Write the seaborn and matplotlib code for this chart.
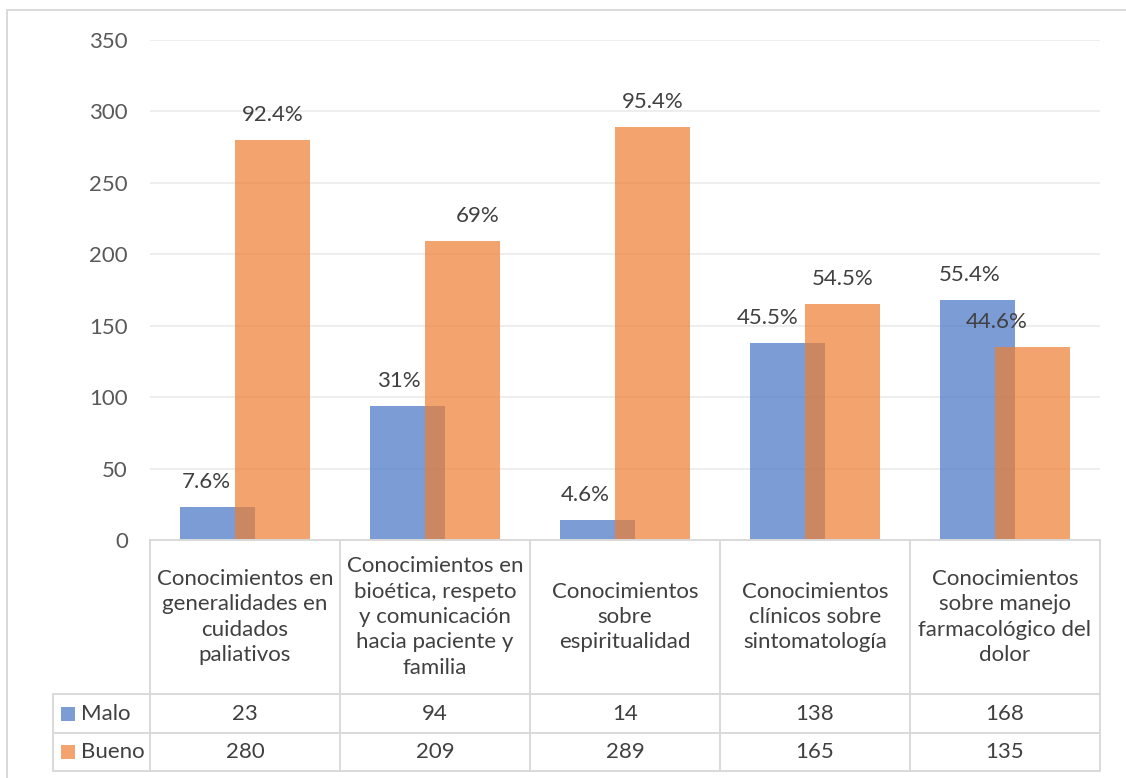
import numpy as np
import pandas as pd
import matplotlib
matplotlib.use("Agg")
import matplotlib.pyplot as plt
from matplotlib.lines import Line2D
from matplotlib.patches import Rectangle
import seaborn as sns

# ---- data ----
categorias = [
    "Conocimientos en\ngeneralidades en\ncuidados\npaliativos",
    "Conocimientos en\nbioética, respeto\ny comunicación\nhacia paciente y\nfamilia",
    "Conocimientos\nsobre\nespiritualidad",
    "Conocimientos\nclínicos sobre\nsintomatología",
    "Conocimientos\nsobre manejo\nfarmacológico del\ndolor",
]
series = ["Malo", "Bueno"]
malo = [23, 94, 14, 138, 168]
bueno = [280, 209, 289, 165, 135]
pct_malo = ["7.6%", "31%", "4.6%", "45.5%", "55.4%"]
pct_bueno = ["92.4%", "69%", "95.4%", "54.5%", "44.6%"]
y_ticks = [0, 50, 100, 150, 200, 250, 300, 350]

# ---- style ----
colores = {"Malo": "#4472C4", "Bueno": "#ED7D31"}
txt_dark = "#404040"
txt_axis = "#595959"
line_col = "#D9D9D9"
grid_col = "#EBEBEB"
fs = 16
# horizontal nudges (px) for the percentage labels
dx_malo = [-11, -8, -12, -19, -7]
dx_bueno = [0, 15, 0, 0, -36]

sns.set_theme(style="white")
plt.rcParams["font.family"] = ["Lato", "DejaVu Sans"]

W, H = 1126, 778
fig = plt.figure(figsize=(W / 100, H / 100), dpi=100)
fig.patch.set_facecolor("white")

PL, PR, PT, PB = 150, 1100, 40, 540
ax = fig.add_axes([PL / W, 1 - PB / H, (PR - PL) / W, (PB - PT) / H])

n = len(categorias)
idx = np.arange(n)
shift = 0.147
bar_w = 0.395
df = pd.DataFrame({
    "pos": np.concatenate([idx - shift, idx + shift]),
    "valor": malo + bueno,
    "serie": ["Malo"] * n + ["Bueno"] * n,
})
for s in series:
    sub = df[df["serie"] == s]
    sns.barplot(data=sub, x="pos", y="valor", native_scale=True, width=bar_w,
                color=colores[s], alpha=0.7, saturation=1, errorbar=None,
                linewidth=0, edgecolor="none", ax=ax, zorder=3)

ax.set_xlim(-0.5, n - 0.5)
ax.set_ylim(0, 350)
ax.set_yticks(y_ticks)
ax.set_xticks([])
ax.set_xlabel("")
ax.set_ylabel("")
ax.grid(False)
for yv in y_ticks[1:]:
    ax.axhline(yv, color=grid_col, lw=1.2, zorder=1)
for sp in ax.spines.values():
    sp.set_visible(False)
ax.tick_params(axis="y", length=0, pad=16, labelsize=fs, labelcolor=txt_axis)

for i in range(n):
    ax.annotate(pct_malo[i], (i - shift, malo[i]), xytext=(dx_malo[i] * 0.72, 18),
                textcoords="offset points", ha="center", va="center",
                fontsize=fs, color=txt_dark, zorder=5)
    ax.annotate(pct_bueno[i], (i + shift, bueno[i]), xytext=(dx_bueno[i] * 0.72, 18),
                textcoords="offset points", ha="center", va="center",
                fontsize=fs, color=txt_dark, zorder=5)

# ---- data table below the plot (x in category units, y in pixels) ----
ppu = (PR - PL) / n
tab = fig.add_axes([0, 0, 1, 1])
tab.patch.set_visible(False)
tab.set_xlim(-0.5 - PL / ppu, -0.5 + (W - PL) / ppu)
tab.set_ylim(H, 0)
tab.axis("off")

leg_left = -0.5 - 97 / ppu
r_top, r1, r2, r_bot = 540, 694, 733, 771
lw = 1.4
tab.plot([-0.5, n - 0.5], [r_top, r_top], color=line_col, lw=lw)
for yy in (r1, r2, r_bot):
    tab.plot([leg_left, n - 0.5], [yy, yy], color=line_col, lw=lw)
for k in range(n + 1):
    tab.plot([k - 0.5, k - 0.5], [r_top, r_bot], color=line_col, lw=lw)
tab.plot([leg_left, leg_left], [r1, r_bot], color=line_col, lw=lw)

for i in range(n):
    tab.text(i, (r_top + r1) / 2, categorias[i], ha="center", va="center",
             fontsize=fs, color=txt_dark, linespacing=1.33)
    tab.text(i, (r1 + r2) / 2, str(malo[i]), ha="center", va="center",
             fontsize=fs, color=txt_dark)
    tab.text(i, (r2 + r_bot) / 2, str(bueno[i]), ha="center", va="center",
             fontsize=fs, color=txt_dark)

for s, (ya, yb) in zip(series, [(r1, r2), (r2, r_bot)]):
    yc = (ya + yb) / 2
    tab.add_patch(Rectangle((-0.5 + (61 - PL) / ppu, yc - 7), 14 / ppu, 14,
                            facecolor=colores[s], alpha=0.7, edgecolor="none"))
    tab.text(-0.5 + (81 - PL) / ppu, yc, s, ha="left", va="center",
             fontsize=fs, color=txt_dark)

# chart frame
fig.add_artist(Line2D([7 / W, 1], [1 - 10 / H, 1 - 10 / H], transform=fig.transFigure,
                      color=line_col, lw=1.4))
fig.add_artist(Line2D([7 / W, 7 / W], [0, 1 - 10 / H], transform=fig.transFigure,
                      color=line_col, lw=1.4))

fig.savefig("out.png", dpi=100, facecolor="white")
